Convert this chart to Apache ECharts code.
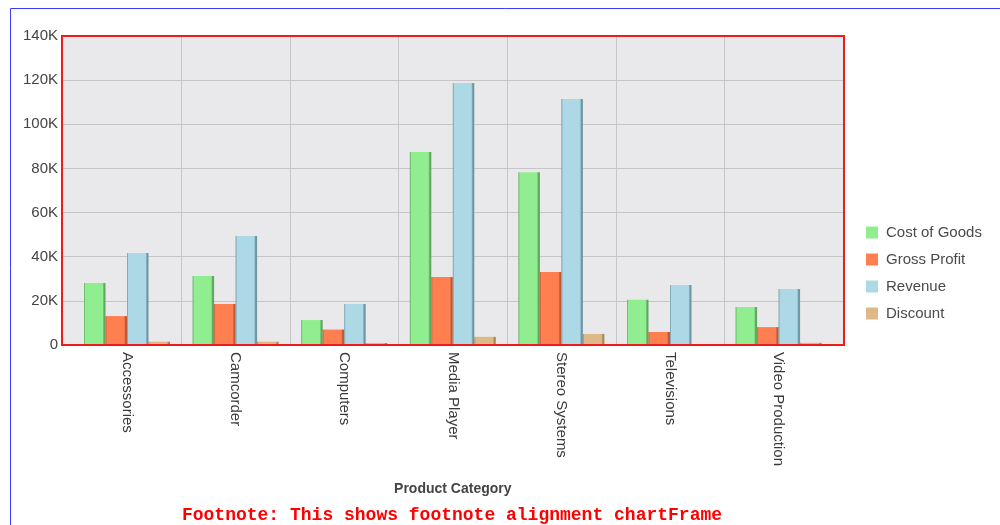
<!DOCTYPE html>
<html>
<head>
<meta charset="utf-8">
<script src="https://cdn.jsdelivr.net/npm/echarts@6/dist/echarts.min.js"></script>
<style>
html,body{margin:0;padding:0;background:#fff;}
#chart{width:1000px;height:525px;}
</style>
</head>
<body>
<div id="chart"></div>
<script>
var categories = ['Accessories', 'Camcorder', 'Computers', 'Media Player', 'Stereo Systems', 'Televisions', 'Video Production'];
var costOfGoods = [28100, 31300, 11300, 87400, 78300, 20500, 17200];
var grossProfit = [13100, 18600, 7000, 30800, 33100, 5900, 8100];
var revenue = [41700, 49400, 18600, 118700, 111500, 27200, 25400];
var discount = [1500, 1500, 900, 3700, 5000, 300, 1000];
var seriesNames = ['Cost of Goods', 'Gross Profit', 'Revenue', 'Discount'];
var yTicks = [0, 20000, 40000, 60000, 80000, 100000, 120000, 140000];

var colors = ['#90ee90', '#ff7f50', '#add8e6', '#deb887'];
var edges = ['#5fa85f', '#c05a36', '#6f96a3', '#a68858'];

function barFill(i) {
  return new echarts.graphic.LinearGradient(0, 0, 1, 0, [
    {offset: 0, color: edges[i]},
    {offset: 0.07, color: colors[i]},
    {offset: 0.86, color: colors[i]},
    {offset: 0.93, color: edges[i]},
    {offset: 1, color: edges[i]}
  ]);
}

var boundaries = categories.slice(1).map(function (c, i) { return i + 0.5; });
var valueSets = [costOfGoods, grossProfit, revenue, discount];
var labelFont = 'Liberation Sans, Arial, sans-serif';

var chart = echarts.init(document.getElementById('chart'), null, {renderer: 'canvas'});
var option = {
  animation: false,
  graphic: [{
    type: 'rect', z: -10, silent: true,
    shape: {x: 10.5, y: 8.5, width: 1200, height: 700},
    style: {fill: 'none', stroke: '#3b3bff', lineWidth: 1}
  }],
  legend: {
    orient: 'vertical', left: 866, top: 225, padding: 0,
    itemWidth: 12, itemHeight: 12, itemGap: 12,
    icon: 'rect',
    textStyle: {fontFamily: labelFont, fontSize: 15, color: '#4a4a4a', padding: [0, 0, 0, 3]},
    data: seriesNames.map(function (n, i) { return {name: n, itemStyle: {color: colors[i]}}; })
  },
  grid: [
    {left: 62, top: 36, width: 782, height: 309, show: true, backgroundColor: '#e9e9ec', borderColor: 'transparent', borderWidth: 0, z: 0},
    {left: 72.7, top: 36, width: 760.2, height: 309, show: false},
    {left: 62, top: 36, width: 782, height: 309, show: true, backgroundColor: 'transparent', borderColor: '#f01c1c', borderWidth: 2, z: 20}
  ],
  xAxis: [
    {gridIndex: 0, type: 'value', min: -0.6, max: 6.6, show: false},
    {gridIndex: 1, type: 'category', data: categories,
      axisLine: {show: false}, axisTick: {show: false}, splitLine: {show: false},
      axisLabel: {rotate: -90, margin: 7, fontFamily: labelFont, fontSize: 15, color: '#3a3a3a', interval: 0},
      name: 'Product Category', nameLocation: 'middle', nameGap: 137,
      nameTextStyle: {fontFamily: labelFont, fontWeight: 'bold', fontSize: 14, color: '#444'}
    }
  ],
  yAxis: [
    {gridIndex: 0, type: 'value', min: 0, max: 140000, interval: 20000,
      axisLine: {show: false}, axisTick: {show: false},
      splitLine: {show: true, lineStyle: {color: '#c6c6c8', width: 1}},
      axisLabel: {margin: 4, fontFamily: labelFont, fontSize: 15, color: '#444',
        formatter: function (v) { return v === 0 ? '0' : (v / 1000) + 'K'; }}
    },
    {gridIndex: 1, type: 'value', min: 0, max: 140000, show: false}
  ],
  series: [{
    type: 'line', xAxisIndex: 0, yAxisIndex: 0, data: [], silent: true,
    markLine: {
      silent: true, symbol: 'none', label: {show: false},
      lineStyle: {color: '#c6c6c8', width: 1, type: 'solid'},
      emphasis: {disabled: true},
      data: boundaries.map(function (b) { return {xAxis: b}; })
    }
  }].concat(valueSets.map(function (vals, i) {
    return {
      name: seriesNames[i], type: 'bar', xAxisIndex: 1, yAxisIndex: 1,
      barWidth: 21.5, barGap: '0%',
      itemStyle: {color: barFill(i)},
      data: vals
    };
  })),
  title: {
    text: 'Footnote: This shows footnote alignment chartFrame',
    left: 452, top: 506, textAlign: 'center', padding: 0,
    textStyle: {fontFamily: 'Liberation Mono, Courier New, monospace', fontWeight: 'bold', fontSize: 18, color: '#ff0000'}
  }
};
chart.setOption(option);
</script>
</body>
</html>
